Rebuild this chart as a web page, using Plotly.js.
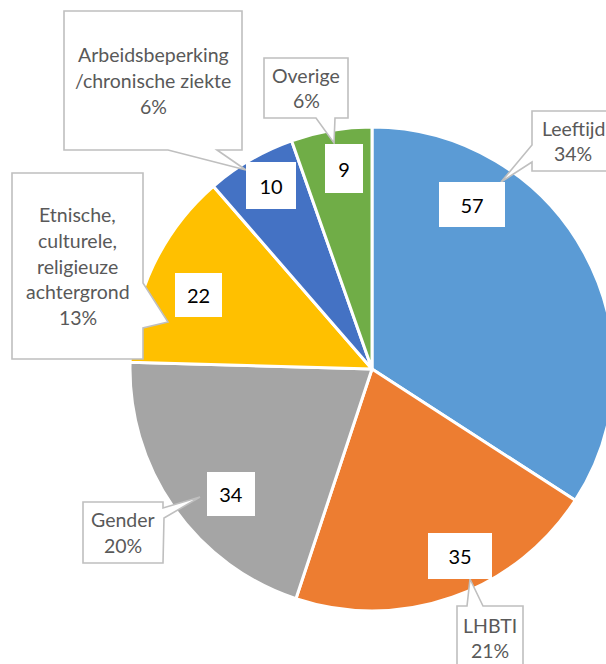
<!DOCTYPE html>
<html>
<head>
<meta charset="utf-8">
<script src="https://cdn.plot.ly/plotly-3.0.1.min.js"></script>
<style>
  html, body { margin: 0; padding: 0; overflow: hidden; background: #fff; }
  #chart { width: 620px; height: 664px; }
</style>
</head>
<body>
<div id="chart"></div>
<script>
// ---- data ----
const categories = ['Leeftijd', 'LHBTI', 'Gender', 'Etnische, culturele, religieuze achtergrond', 'Arbeidsbeperking/chronische ziekte', 'Overige'];
const values = [57, 35, 34, 22, 10, 9];
const percentLabels = ['34%', '21%', '20%', '13%', '6%', '6%'];
const calloutLines = [
  ['Leeftijd'],
  ['LHBTI'],
  ['Gender'],
  ['Etnische,', 'culturele,', 'religieuze', 'achtergrond'],
  ['Arbeidsbeperking', '/chronische ziekte'],
  ['Overige']
];
const colors = ['#5B9BD5', '#ED7D31', '#A5A5A5', '#FFC000', '#4472C4', '#70AD47'];

// ---- layout geometry (pixels) ----
const W = 620, H = 664;
const pie = { cx: 372, cy: 369, r: 242 };
// value label boxes [x0, y0, x1, y1]
const valueBoxes = [
  [439, 182, 505, 227],
  [428, 533, 492, 579],
  [207, 472, 255, 516],
  [175, 273, 222, 317],
  [246, 162, 296, 209],
  [325, 144, 363, 193]
];
// callout boxes [x0, y0, x1, y1] and pointer polygons
const calloutBoxes = [
  [532, 111, 622, 171],
  [457, 606, 523, 690],
  [83, 502, 163, 563],
  [12, 173, 143, 359],
  [64, 11, 242, 150],
  [264, 58, 348, 118]
];
const calloutPaths = [
  [[532,111],[622,111],[622,171],[532,171],[532,162],[501,182],[532,145]],
  [[457,606],[467,606],[470,579],[483,606],[523,606],[523,690],[457,690]],
  [[83,502],[163,502],[163,508],[200,497],[164,518],[163,563],[83,563]],
  [[12,173],[143,173],[143,283],[168,322],[143,328],[143,359],[12,359]],
  [[64,11],[242,11],[242,150],[217,150],[246,170],[168,150],[64,150]],
  [[264,58],[348,58],[348,118],[335,118],[334,143],[316,118],[264,118]]
];

const px = x => x / W;
const py = y => 1 - y / H;

const trace = {
  type: 'pie',
  labels: categories,
  values: values,
  sort: false,
  direction: 'clockwise',
  rotation: 0,
  marker: { colors: colors, line: { color: '#FFFFFF', width: 3 } },
  textinfo: 'none',
  hoverinfo: 'label+value+percent',
  domain: {
    x: [px(pie.cx - pie.r), px(pie.cx + pie.r)],
    y: [py(pie.cy + pie.r), py(pie.cy - pie.r)]
  }
};

const shapes = calloutPaths.map(pts => ({
  type: 'path',
  xref: 'paper', yref: 'paper',
  layer: 'above',
  path: 'M ' + pts.map(p => px(p[0]) + ',' + py(p[1])).join(' L ') + ' Z',
  fillcolor: '#FFFFFF',
  line: { color: '#BFBFBF', width: 1.6 }
}));

const annotations = [];
// value labels
valueBoxes.forEach((b, i) => {
  annotations.push({
    xref: 'paper', yref: 'paper',
    x: px((b[0] + b[2]) / 2), y: py((b[1] + b[3]) / 2),
    xanchor: 'center', yanchor: 'middle',
    width: b[2] - b[0], height: b[3] - b[1],
    text: String(values[i]),
    showarrow: false,
    bgcolor: '#FFFFFF', borderpad: 0, borderwidth: 0,
    font: { family: 'Lato, sans-serif', size: 20, color: '#000000' }
  });
});
// callout texts
const lineH = 25.7;
calloutBoxes.forEach((b, i) => {
  const lines = calloutLines[i].concat([percentLabels[i]]);
  let cy = (b[1] + b[3]) / 2;
  if (i === 1) cy = 638;
  const cx = (b[0] + b[2]) / 2 + (i === 0 ? -4 : 0);
  lines.forEach((t, k) => {
    const y = cy + (k - (lines.length - 1) / 2) * lineH;
    annotations.push({
      xref: 'paper', yref: 'paper',
      x: px(cx), y: py(y),
      xanchor: 'center', yanchor: 'middle',
      text: t, showarrow: false,
      font: { family: 'Lato, sans-serif', size: 19.5, color: '#595959' }
    });
  });
});

const layout = {
  width: W, height: H,
  margin: { l: 0, r: 0, t: 0, b: 0 },
  showlegend: false,
  paper_bgcolor: '#FFFFFF',
  shapes: shapes,
  annotations: annotations
};

Plotly.newPlot('chart', [trace], layout, { displayModeBar: false, staticPlot: true });
</script>
</body>
</html>
